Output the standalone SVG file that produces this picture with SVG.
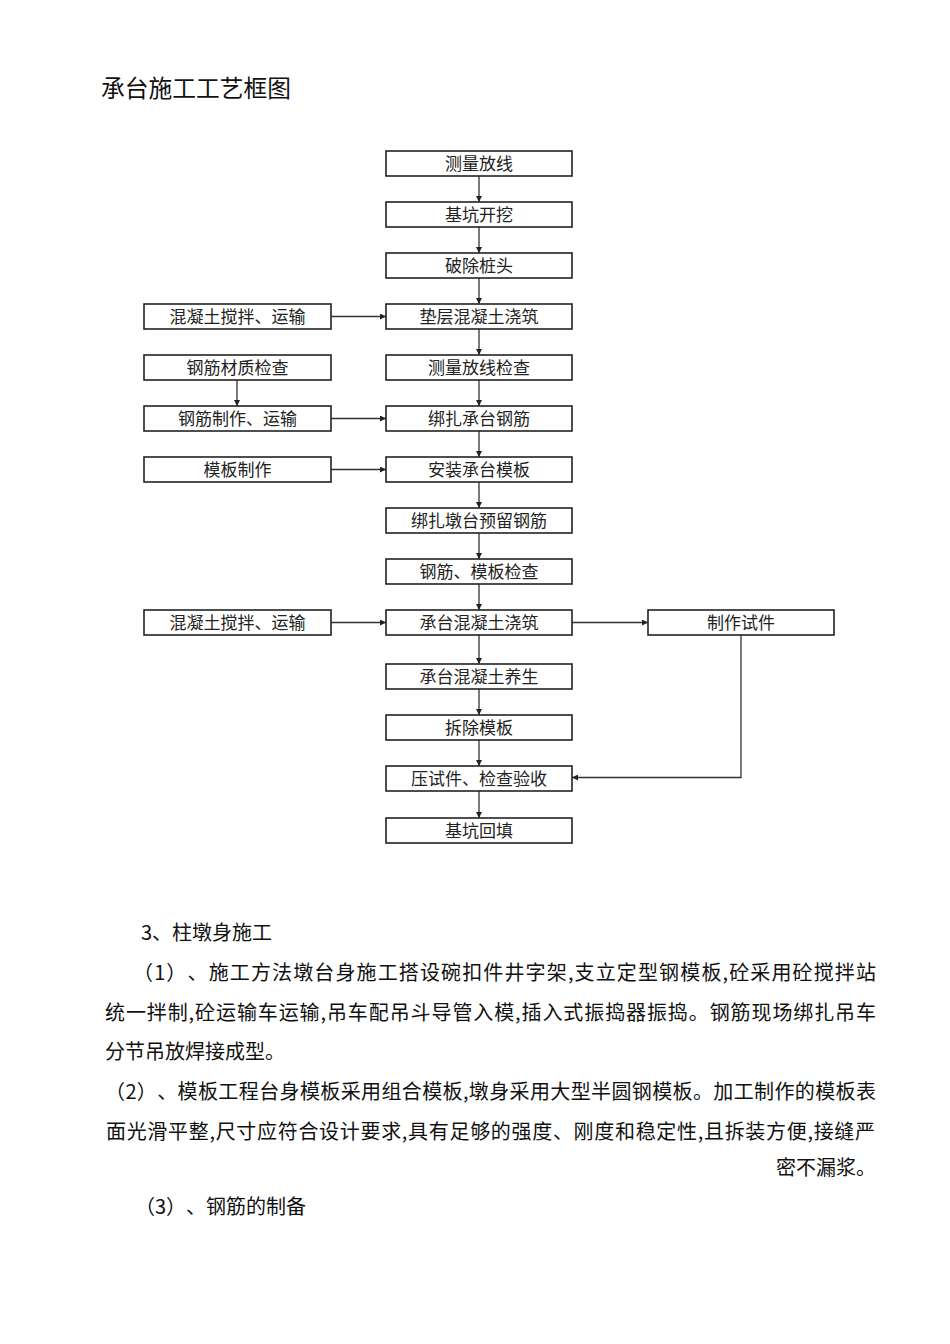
<svg xmlns="http://www.w3.org/2000/svg" width="950" height="1344" viewBox="0 0 950 1344">
<defs>
<style>
.box{fill:#fff;stroke:#222;stroke-width:1.6}
.bt{font-family:"Noto Sans CJK SC","Noto Sans CJK JP",sans-serif;font-size:17px;fill:#222;text-anchor:middle;dominant-baseline:central}
.con{fill:none;stroke:#333;stroke-width:1.3}
.p{font-family:"Noto Sans CJK SC","Noto Sans CJK JP",sans-serif;font-size:20px;fill:#111;text-spacing-trim:space-all}
</style>
<marker id="ah" viewBox="0 0 10 10" refX="10" refY="5" markerWidth="6" markerHeight="6" markerUnits="userSpaceOnUse" orient="auto">
<path d="M0,0 L10,5 L0,10 z" fill="#222"/>
</marker>
</defs>
<rect width="950" height="1344" fill="#fff"/>
<text class="p" x="101" y="97" textLength="190" lengthAdjust="spacingAndGlyphs" style="font-size:24px">承台施工工艺框图</text>

<g id="connectors">
<line class="con" x1="479" y1="176" x2="479" y2="202" marker-end="url(#ah)"/>
<line class="con" x1="479" y1="227" x2="479" y2="253" marker-end="url(#ah)"/>
<line class="con" x1="479" y1="278" x2="479" y2="304" marker-end="url(#ah)"/>
<line class="con" x1="479" y1="329" x2="479" y2="355" marker-end="url(#ah)"/>
<line class="con" x1="479" y1="380" x2="479" y2="406" marker-end="url(#ah)"/>
<line class="con" x1="479" y1="431" x2="479" y2="457" marker-end="url(#ah)"/>
<line class="con" x1="479" y1="482" x2="479" y2="508" marker-end="url(#ah)"/>
<line class="con" x1="479" y1="533" x2="479" y2="559" marker-end="url(#ah)"/>
<line class="con" x1="479" y1="584" x2="479" y2="610" marker-end="url(#ah)"/>
<line class="con" x1="479" y1="635" x2="479" y2="664" marker-end="url(#ah)"/>
<line class="con" x1="479" y1="689" x2="479" y2="715" marker-end="url(#ah)"/>
<line class="con" x1="479" y1="740" x2="479" y2="766" marker-end="url(#ah)"/>
<line class="con" x1="479" y1="791" x2="479" y2="818" marker-end="url(#ah)"/>
<line class="con" x1="331" y1="316.5" x2="386" y2="316.5" marker-end="url(#ah)"/>
<line class="con" x1="237" y1="380" x2="237" y2="406" marker-end="url(#ah)"/>
<line class="con" x1="331" y1="418.5" x2="386" y2="418.5" marker-end="url(#ah)"/>
<line class="con" x1="331" y1="469.5" x2="386" y2="469.5" marker-end="url(#ah)"/>
<line class="con" x1="331" y1="622.5" x2="386" y2="622.5" marker-end="url(#ah)"/>
<line class="con" x1="572" y1="622.5" x2="648" y2="622.5" marker-end="url(#ah)"/>
<polyline class="con" points="741,635 741,777.5 572,777.5" marker-end="url(#ah)"/>
</g>

<g id="n1"><rect class="box" x="386" y="151" width="186" height="25"/><text class="bt" x="479" y="162.5">测量放线</text></g>
<g id="n2"><rect class="box" x="386" y="202" width="186" height="25"/><text class="bt" x="479" y="213.5">基坑开挖</text></g>
<g id="n3"><rect class="box" x="386" y="253" width="186" height="25"/><text class="bt" x="479" y="264.5">破除桩头</text></g>
<g id="n4"><rect class="box" x="386" y="304" width="186" height="25"/><text class="bt" x="479" y="315.5">垫层混凝土浇筑</text></g>
<g id="n5"><rect class="box" x="386" y="355" width="186" height="25"/><text class="bt" x="479" y="366.5">测量放线检查</text></g>
<g id="n6"><rect class="box" x="386" y="406" width="186" height="25"/><text class="bt" x="479" y="417.5">绑扎承台钢筋</text></g>
<g id="n7"><rect class="box" x="386" y="457" width="186" height="25"/><text class="bt" x="479" y="468.5">安装承台模板</text></g>
<g id="n8"><rect class="box" x="386" y="508" width="186" height="25"/><text class="bt" x="479" y="519.5">绑扎墩台预留钢筋</text></g>
<g id="n9"><rect class="box" x="386" y="559" width="186" height="25"/><text class="bt" x="479" y="570.5">钢筋、模板检查</text></g>
<g id="n10"><rect class="box" x="386" y="610" width="186" height="25"/><text class="bt" x="479" y="621.5">承台混凝土浇筑</text></g>
<g id="n11"><rect class="box" x="386" y="664" width="186" height="25"/><text class="bt" x="479" y="675.5">承台混凝土养生</text></g>
<g id="n12"><rect class="box" x="386" y="715" width="186" height="25"/><text class="bt" x="479" y="726.5">拆除模板</text></g>
<g id="n13"><rect class="box" x="386" y="766" width="186" height="25"/><text class="bt" x="479" y="777.5">压试件、检查验收</text></g>
<g id="n14"><rect class="box" x="386" y="818" width="186" height="25"/><text class="bt" x="479" y="829.5">基坑回填</text></g>
<g id="l1"><rect class="box" x="144" y="304" width="187" height="25"/><text class="bt" x="237.5" y="315.5">混凝土搅拌、运输</text></g>
<g id="l2"><rect class="box" x="144" y="355" width="187" height="25"/><text class="bt" x="237.5" y="366.5">钢筋材质检查</text></g>
<g id="l3"><rect class="box" x="144" y="406" width="187" height="25"/><text class="bt" x="237.5" y="417.5">钢筋制作、运输</text></g>
<g id="l4"><rect class="box" x="144" y="457" width="187" height="25"/><text class="bt" x="237.5" y="468.5">模板制作</text></g>
<g id="l5"><rect class="box" x="144" y="610" width="187" height="25"/><text class="bt" x="237.5" y="621.5">混凝土搅拌、运输</text></g>
<g id="r1"><rect class="box" x="648" y="610" width="186" height="25"/><text class="bt" x="741" y="621.5">制作试件</text></g>

<text class="p" x="141" y="940">3、柱墩身施工</text>
<text class="p" x="133" y="980" textLength="743" lengthAdjust="spacing">（1）、施工方法墩台身施工搭设碗扣件井字架,支立定型钢模板,砼采用砼搅拌站</text>
<text class="p" x="105" y="1020" textLength="771" lengthAdjust="spacing">统一拌制,砼运输车运输,吊车配吊斗导管入模,插入式振捣器振捣。钢筋现场绑扎吊车</text>
<text class="p" x="105" y="1059">分节吊放焊接成型。</text>
<text class="p" x="105" y="1099" textLength="771" lengthAdjust="spacing">（2）、模板工程台身模板采用组合模板,墩身采用大型半圆钢模板。加工制作的模板表</text>
<text class="p" x="106" y="1139" textLength="769" lengthAdjust="spacing">面光滑平整,尺寸应符合设计要求,具有足够的强度、刚度和稳定性,且拆装方便,接缝严</text>
<text class="p" x="876" y="1175" text-anchor="end">密不漏浆。</text>
<text class="p" x="135" y="1214">（3）、钢筋的制备</text>
</svg>
